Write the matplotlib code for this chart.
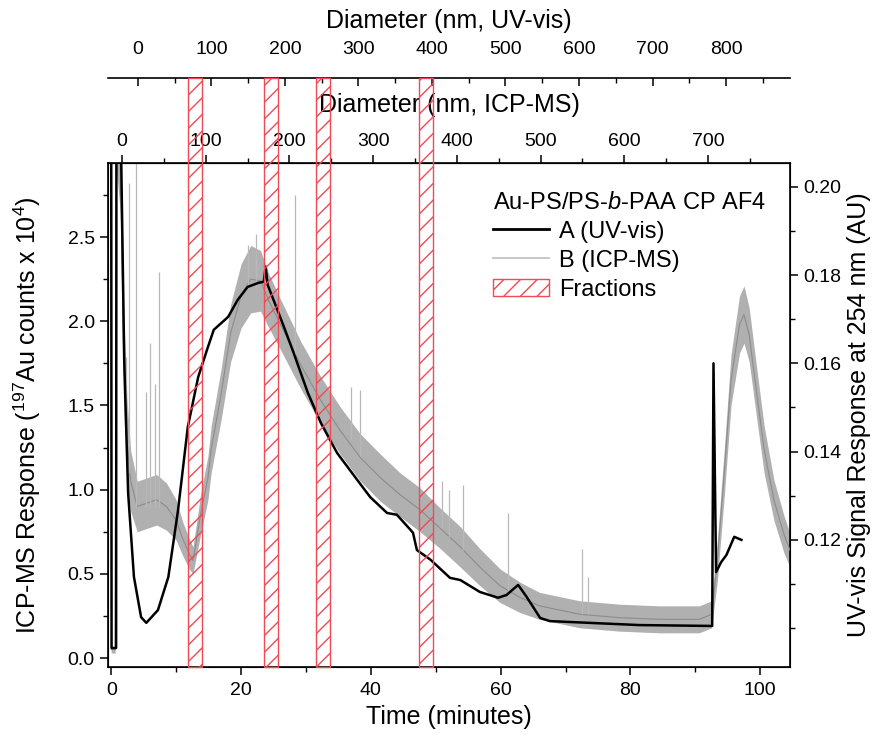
import matplotlib
matplotlib.use("Agg")
import matplotlib.pyplot as plt
import matplotlib.transforms as mtransforms
from matplotlib.patches import Rectangle, Patch
from matplotlib.lines import Line2D
from matplotlib.ticker import MultipleLocator, FormatStrFormatter

plt.rcParams['font.family'] = ['Liberation Sans', 'DejaVu Sans']
plt.rcParams['mathtext.fontset'] = 'custom'
plt.rcParams['mathtext.rm'] = 'Liberation Sans'
plt.rcParams['mathtext.it'] = 'Liberation Sans:italic'
plt.rcParams['hatch.linewidth'] = 1.0

# ICP-MS trace (left axis, x 10^4 counts): middle of the noisy band and its half width
icp_t = [0.0, 0.6, 0.8, 1.4, 1.9, 2.4, 3.0, 4.0, 5.5, 7.0, 8.5, 10.0, 11.0, 12.0, 12.6,
         13.8, 14.9, 15.4, 16.9, 18.4, 20.0, 21.5, 23.0, 24.3, 26.1, 29.2, 32.3, 35.3,
         38.4, 41.5, 44.5, 47.6, 50.7, 53.8, 56.8, 59.9, 63.0, 66.0, 72.2, 78.3, 84.5,
         90.6, 92.5, 93.4, 94.5, 95.5, 96.8, 97.5, 98.3, 99.4, 100.6, 102.1, 103.7, 104.6]
icp_mid = [0.05, 0.05, 2.95, 2.95, 1.80, 1.30, 1.05, 0.90, 0.92, 0.94, 0.90, 0.82, 0.71, 0.62, 0.58,
           0.86, 1.07, 1.24, 1.56, 1.93, 2.15, 2.25, 2.24, 2.12, 1.98, 1.74, 1.53, 1.35,
           1.19, 1.07, 0.97, 0.88, 0.77, 0.66, 0.54, 0.43, 0.36, 0.31, 0.26, 0.24, 0.23,
           0.23, 0.26, 0.58, 1.12, 1.65, 1.98, 2.04, 1.92, 1.59, 1.24, 0.94, 0.73, 0.64]
icp_half = [0.02, 0.02, 0.05, 0.30, 0.30, 0.25, 0.18, 0.15, 0.15, 0.15, 0.14, 0.12, 0.10, 0.09, 0.08,
            0.12, 0.13, 0.14, 0.15, 0.17, 0.19, 0.20, 0.18, 0.16, 0.15, 0.14, 0.14, 0.14,
            0.14, 0.14, 0.13, 0.13, 0.12, 0.12, 0.11, 0.10, 0.09, 0.08, 0.08, 0.08, 0.08,
            0.08, 0.08, 0.12, 0.14, 0.15, 0.17, 0.17, 0.16, 0.15, 0.14, 0.12, 0.11, 0.10]

# isolated ICP-MS spikes
spike_t = [2.3, 2.8, 3.8, 5.4, 5.9, 6.7, 7.3, 21.0, 22.3, 28.3, 36.9, 38.4,
           50.9, 52.0, 54.2, 61.2, 72.5, 73.5]
spike_base = [1.2, 1.1, 0.9, 0.9, 0.9, 0.9, 0.9, 2.2, 2.2, 1.8, 1.3, 1.2,
              0.77, 0.72, 0.64, 0.37, 0.26, 0.26]
spike_top = [1.79, 2.82, 2.95, 1.58, 1.87, 1.63, 2.29, 2.45, 2.52, 2.75, 1.61, 1.59,
             1.05, 1.00, 1.03, 0.86, 0.65, 0.48]

# UV-vis trace (right axis, AU)
uv_t = [0.0, 0.05, 0.75, 0.8, 1.5, 2.0, 2.6, 3.5, 4.6, 5.4, 7.2, 8.8, 10.3, 11.8,
        13.4, 14.9, 15.8, 18.0, 19.5, 21.0, 22.6, 23.5, 23.8, 24.1, 25.0, 26.6,
        28.1, 30.3, 32.3, 34.8, 37.9, 39.9, 42.5, 44.0, 46.1, 46.5, 47.1, 49.2,
        52.2, 53.8, 56.8, 59.6, 60.9, 62.7, 64.0, 66.1, 67.6, 73.7, 81.4, 92.6,
        92.8, 93.2, 94.0, 94.8, 96.0, 97.1]
uv_v = [0.210, 0.0955, 0.0955, 0.210, 0.210, 0.1608, 0.1307, 0.1116, 0.1025, 0.1012, 0.1041, 0.1116, 0.1268, 0.1456,
        0.1569, 0.1637, 0.1676, 0.1705, 0.1744, 0.1773, 0.1782, 0.1785, 0.1819, 0.1778, 0.1744, 0.1683,
        0.1624, 0.1533, 0.1465, 0.1397, 0.1336, 0.1297, 0.1261, 0.1257, 0.1223, 0.1216, 0.1177, 0.1155,
        0.1114, 0.1109, 0.1082, 0.1069, 0.1075, 0.1098, 0.1071, 0.1023, 0.1016, 0.1012, 0.1007, 0.1005,
        0.1600, 0.1127, 0.1150, 0.1166, 0.1207, 0.1200]

# collected fractions (start time, width in minutes)
frac_start = [11.9, 23.5, 31.6, 47.5]
frac_width = 2.15

red = '#ef4a55'
tick_fs = 14
label_fs = 18

fig = plt.figure(figsize=(8.73, 7.38), dpi=100)
ax = fig.add_axes([0.1237, 0.0962, 0.7813, 0.683])

lo = [m - h for m, h in zip(icp_mid, icp_half)]
hi = [m + h for m, h in zip(icp_mid, icp_half)]
ax.fill_between(icp_t, lo, hi, color='#b0b0b0', lw=0, zorder=2)
ax.plot(icp_t, icp_mid, color='#8c8c8c', lw=0.8, zorder=3)
ax.vlines(spike_t, spike_base, spike_top, color='#b8b8b8', lw=0.9, zorder=3)

ax.set_xlim(-0.5, 104.6)
ax.set_ylim(-0.053, 2.94)
ax.set_yticks([0.0, 0.5, 1.0, 1.5, 2.0, 2.5])
ax.yaxis.set_major_formatter(FormatStrFormatter('%.1f'))
ax.yaxis.set_minor_locator(MultipleLocator(0.25))
ax.set_xticks([0, 20, 40, 60, 80, 100])
ax.xaxis.set_minor_locator(MultipleLocator(10))
ax.xaxis.set_ticks_position('bottom')
ax.tick_params(which='major', direction='out', length=6, width=1.1, labelsize=tick_fs)
ax.tick_params(axis='x', which='major', pad=5)
ax.tick_params(which='minor', direction='out', length=3.5, width=1.0)
ax.set_xlabel('Time (minutes)', fontsize=label_fs, labelpad=4)
ax.set_ylabel(r'ICP-MS Response ($^{197}$Au counts x 10$^{4}$)', fontsize=label_fs, labelpad=18)
for s in ax.spines.values():
    s.set_linewidth(1.2)

ax2 = ax.twinx()
ax2.plot(uv_t, uv_v, color='black', lw=1.8, zorder=4)
ax2.set_ylim(0.0912, 0.2054)
ax2.set_yticks([0.12, 0.14, 0.16, 0.18, 0.20])
ax2.yaxis.set_major_formatter(FormatStrFormatter('%.2f'))
ax2.yaxis.set_minor_locator(MultipleLocator(0.01))
ax2.tick_params(which='major', direction='out', length=6, width=1.1, labelsize=tick_fs)
ax2.tick_params(which='minor', direction='out', length=3.5, width=1.0)
ax2.set_ylabel('UV-vis Signal Response at 254 nm (AU)', fontsize=label_fs, labelpad=4)

# fraction boxes, running up to the UV-vis diameter axis
trans = mtransforms.blended_transform_factory(ax2.transData, ax2.transAxes)
for f0 in frac_start:
    ax2.add_patch(Rectangle((f0, 0), frac_width, 1 + 85 / 504, transform=trans, fill=False,
                            hatch='//', edgecolor=red, lw=1.0, clip_on=False, zorder=5))


def t2icp(t):
    return (t - 1.65) * 100 / 12.9


def icp2t(d):
    return d * 12.9 / 100 + 1.65


def t2uv(t):
    return (t - 4.1) * 100 / 11.33


def uv2t(d):
    return d * 11.33 / 100 + 4.1


sec1 = ax.secondary_xaxis('top', functions=(t2icp, icp2t))
sec1.set_xticks(range(0, 800, 100))
sec1.xaxis.set_minor_locator(MultipleLocator(50))
sec1.tick_params(which='major', direction='out', length=6, width=1.1, labelsize=tick_fs)
sec1.tick_params(which='minor', direction='out', length=3.5, width=1.0)
sec1.set_xlabel('Diameter (nm, ICP-MS)', fontsize=label_fs, labelpad=15)

sec2 = ax.secondary_xaxis(1 + 85 / 504, functions=(t2uv, uv2t))
sec2.set_xticks(range(0, 900, 100))
sec2.xaxis.set_minor_locator(MultipleLocator(50))
sec2.tick_params(which='major', direction='in', length=6, width=1.1, labelsize=tick_fs, pad=14)
sec2.tick_params(which='minor', direction='in', length=3.5, width=1.0)
sec2.spines['top'].set_linewidth(1.2)
sec2.set_xlabel('Diameter (nm, UV-vis)', fontsize=label_fs, labelpad=10)

handles = [Line2D([], [], color='black', lw=2.0),
           Line2D([], [], color='#bdbdbd', lw=1.2),
           Patch(facecolor='none', edgecolor=red, hatch='//', lw=1.0)]
labels = ['A (UV-vis)', 'B (ICP-MS)', 'Fractions']
leg = ax2.legend(handles, labels, title='Au-PS/PS-$b$-PAA CP AF4', loc='upper right',
                 bbox_to_anchor=(0.978, 0.962), frameon=False, fontsize=17,
                 title_fontsize=17, handlelength=2.4, handletextpad=0.4,
                 labelspacing=0.3, borderaxespad=0, alignment='left')

fig.savefig('out.png', dpi=100)
